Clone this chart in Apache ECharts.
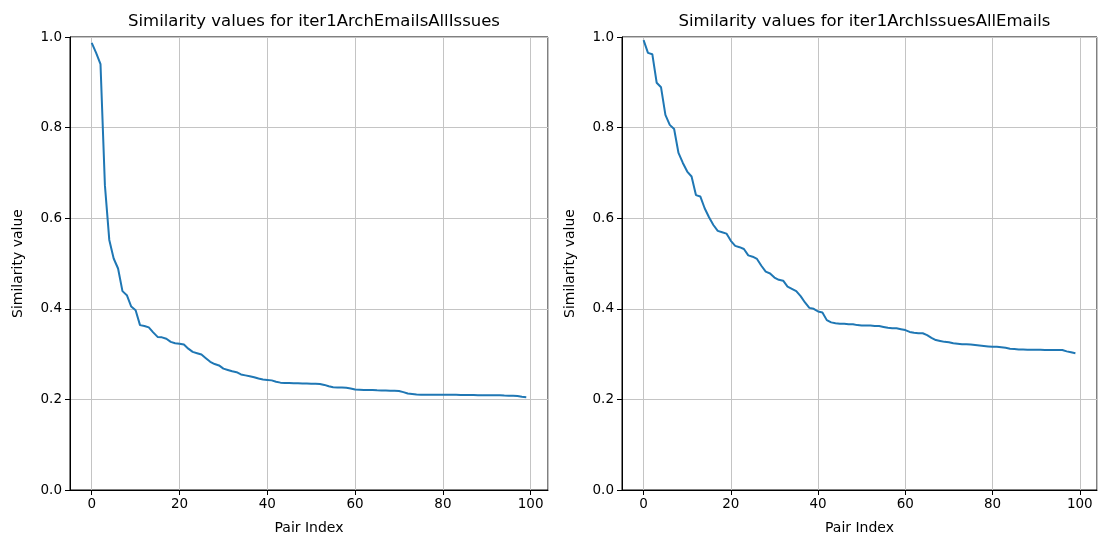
<!DOCTYPE html>
<html>
<head>
<meta charset="utf-8">
<script src="https://cdn.jsdelivr.net/npm/echarts@6/dist/echarts.min.js"></script>
<style>
  html, body { margin: 0; padding: 0; background: #fff; }
  #chart { width: 1104px; height: 542px; }
</style>
</head>
<body>
<div id="chart"></div>
<script>
// titles of the two panels
const titles = [
  'Similarity values for iter1ArchEmailsAllIssues',
  'Similarity values for iter1ArchIssuesAllEmails'
];
const yTicks = [0, 0.2, 0.4, 0.6, 0.8, 1.0];

// similarity values, one per pair index
const emailsAllIssues = [
  0.987, 0.965, 0.94, 0.673, 0.552, 0.511, 0.489, 0.439, 0.43, 0.405,
  0.397, 0.364, 0.362, 0.359, 0.348, 0.338, 0.337, 0.334, 0.327, 0.324,
  0.323, 0.321, 0.312, 0.305, 0.302, 0.299, 0.291, 0.283, 0.278, 0.275,
  0.268, 0.265, 0.262, 0.26, 0.255, 0.253, 0.251, 0.249, 0.246, 0.244,
  0.243, 0.242, 0.239, 0.237, 0.236, 0.236, 0.2355, 0.2355, 0.235, 0.235,
  0.2348, 0.2345, 0.234, 0.232, 0.229, 0.227, 0.2265, 0.226, 0.2255, 0.224,
  0.222, 0.2215, 0.221, 0.221, 0.2205, 0.22, 0.2198, 0.2195, 0.219, 0.219,
  0.2185, 0.216, 0.213, 0.212, 0.211, 0.2105, 0.2102, 0.21, 0.21, 0.21,
  0.21, 0.21, 0.21, 0.21, 0.2098, 0.2098, 0.2096, 0.2095, 0.2094, 0.2093,
  0.2092, 0.209, 0.209, 0.209, 0.2085, 0.2083, 0.208, 0.2075, 0.206, 0.205
];
const issuesAllEmails = [
  0.993, 0.965, 0.962, 0.899, 0.889, 0.828, 0.806, 0.797, 0.744, 0.722,
  0.703, 0.692, 0.651, 0.648, 0.622, 0.602, 0.585, 0.572, 0.569, 0.566,
  0.55, 0.539, 0.536, 0.532, 0.518, 0.515, 0.51, 0.495, 0.482, 0.478,
  0.469, 0.464, 0.462, 0.449, 0.444, 0.439, 0.428, 0.414, 0.402, 0.4,
  0.394, 0.392, 0.375, 0.37, 0.368, 0.367, 0.367, 0.366, 0.366, 0.364,
  0.363, 0.363, 0.363, 0.362, 0.362, 0.36, 0.358, 0.357, 0.357, 0.355,
  0.353, 0.349, 0.347, 0.346, 0.346, 0.342, 0.336, 0.331, 0.329, 0.327,
  0.326, 0.324, 0.323, 0.322, 0.322, 0.321, 0.32, 0.319, 0.318, 0.317,
  0.316, 0.316, 0.315, 0.314, 0.312, 0.311, 0.31, 0.31, 0.3098, 0.3096,
  0.3095, 0.3094, 0.3093, 0.3092, 0.309, 0.309, 0.309, 0.306, 0.304, 0.302
];

const font = 'DejaVu Sans';
const grids = [
  { left: 70, top: 37, width: 478, height: 453 },
  { left: 622, top: 37, width: 475, height: 453 }
];

const myChart = echarts.init(document.getElementById('chart'));

const xAxisFor = (gi) => ({
  type: 'value',
  gridIndex: gi,
  min: -4.95,
  max: 103.95,
  splitNumber: 5,
  name: 'Pair Index',
  nameLocation: 'middle',
  nameGap: 31,
  nameTextStyle: { color: '#000', fontSize: 14, fontFamily: font },
  axisLine: { show: true, onZero: false, lineStyle: { color: '#000', width: 1 } },
  axisTick: { show: true, length: 5, lineStyle: { color: '#000' } },
  axisLabel: {
    color: '#000', fontSize: 13.5, fontFamily: font, margin: 7,
    showMinLabel: false, showMaxLabel: false,
    formatter: (v) => (v % 20 === 0 ? String(v) : '')
  },
  splitLine: { show: true, lineStyle: { color: '#c4c4c4', width: 1 } }
});

const yAxisFor = (gi) => ({
  type: 'value',
  gridIndex: gi,
  min: yTicks[0],
  max: yTicks[yTicks.length - 1],
  interval: 0.2,
  name: 'Similarity value',
  nameLocation: 'middle',
  nameGap: 45,
  nameTextStyle: { color: '#000', fontSize: 14, fontFamily: font },
  axisLine: { show: true, onZero: false, lineStyle: { color: '#000', width: 1 } },
  axisTick: { show: true, length: 5, lineStyle: { color: '#000' } },
  axisLabel: {
    color: '#000', fontSize: 13.5, fontFamily: font, margin: 8,
    formatter: (v) => v.toFixed(1)
  },
  splitLine: { show: true, lineStyle: { color: '#c4c4c4', width: 1 } }
});

const lineSeries = (gi, vals) => ({
  type: 'line',
  xAxisIndex: gi,
  yAxisIndex: gi,
  data: vals.map((v, i) => [i, v]),
  showSymbol: false,
  symbol: 'none',
  lineStyle: { color: '#1f77b4', width: 2 },
  animation: false
});

myChart.setOption({
  animation: false,
  title: titles.map((t, i) => ({
    text: t,
    left: grids[i].left + grids[i].width / 2,
    top: 8,
    textAlign: 'center',
    textStyle: { color: '#000', fontSize: 16.5, fontWeight: 'normal', fontFamily: font }
  })),
  grid: grids.map((g) => ({
    left: g.left, top: g.top, width: g.width, height: g.height,
    show: true, borderColor: '#000', borderWidth: 1, backgroundColor: 'transparent'
  })),
  xAxis: [xAxisFor(0), xAxisFor(1)],
  yAxis: [yAxisFor(0), yAxisFor(1)],
  series: [lineSeries(0, emailsAllIssues), lineSeries(1, issuesAllEmails)]
});
</script>
</body>
</html>
